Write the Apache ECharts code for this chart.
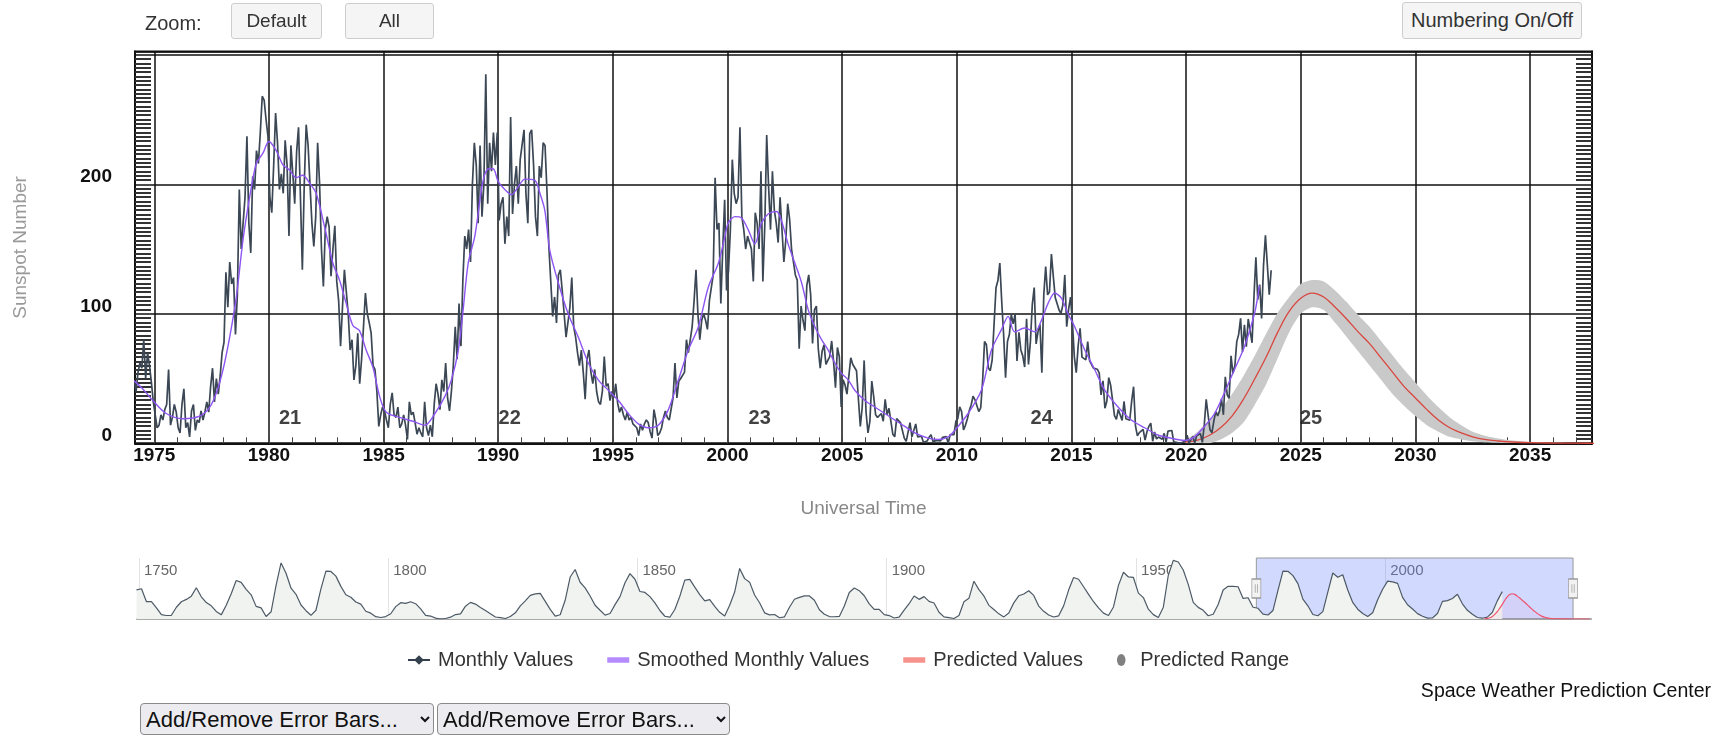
<!DOCTYPE html>
<html>
<head>
<meta charset="utf-8">
<title>Solar Cycle Progression</title>
<script src="https://cdn.jsdelivr.net/npm/echarts@6/dist/echarts.min.js"></script>
<style>
  html, body { margin: 0; padding: 0; background: #fff; }
  body { position: relative; width: 1716px; height: 735px; overflow: hidden; font-family: 'Liberation Sans', Arial, sans-serif; }
  #chart { position: absolute; left: 0; top: 0; width: 1716px; height: 735px; }
  .zoom-label { position: absolute; left: 145px; top: 12px; font-size: 20px; color: #333; }
  .btn {
    position: absolute; top: 3px; height: 36px; box-sizing: border-box; padding: 0;
    background: #f5f5f5; border: 1px solid #cdcdcd; border-radius: 3px;
    font: 19px 'Liberation Sans', Arial, sans-serif; color: #333;
  }
  .sel {
    position: absolute; top: 703px; height: 32px; box-sizing: border-box;
    background: #ececf0; border: 1px solid #8a8a8a; border-radius: 4px;
    font: 22px 'Liberation Sans', Arial, sans-serif; color: #111; padding-left: 1px;
  }
</style>
</head>
<body>
<div id="chart"></div>
<span class="zoom-label">Zoom:</span>
<button class="btn" style="left:231px;width:91px">Default</button>
<button class="btn" style="left:345px;width:89px">All</button>
<button class="btn" style="left:1402px;width:180px;top:2px;height:37px;font-size:20px">Numbering On/Off</button>
<select class="sel" style="left:140px;width:294px"><option>Add/Remove Error Bars...</option></select>
<select class="sel" style="left:437px;width:293px"><option>Add/Remove Error Bars...</option></select>

<script>
// monthly mean sunspot number, Jan 1974 .. Sep 2023
const monthlyStart = 1974
const monthlyValues = [
  45, 48, 40, 55, 62, 58, 80, 50, 70, 60, 47, 32,
  22, 12, 14, 22, 18, 26, 30, 57, 14, 20, 30, 24,
  12, 8, 30, 42, 12, 16, 5, 25, 30, 10, 18, 16,
  25, 18, 24, 32, 24, 44, 58, 32, 50, 38, 52, 70,
  78, 132, 105, 140, 123, 128, 84, 115, 196, 150, 170, 190,
  237, 170, 147, 206, 196, 226, 216, 240, 268, 265, 250, 237,
  190, 178, 215, 255, 232, 196, 208, 193, 234, 215, 160, 230,
  208, 185, 225, 244, 190, 134, 200, 246, 230, 200, 170, 152,
  175, 232, 201, 150, 121, 165, 175, 167, 129, 150, 168, 125,
  110, 75, 105, 134, 134, 100, 72, 80, 49, 60, 85, 46,
  65, 90, 116, 100, 93, 85, 60, 57, 40, 13, 22, 28,
  25, 18, 12, 30, 39, 22, 20, 28, 12, 15, 22, 14,
  3, 32, 22, 24, 16, 7, 12, 8, 5, 32, 12, 6,
  14, 5, 30, 46, 38, 26, 49, 40, 62, 35, 25, 40,
  60, 90, 65, 108, 75, 126, 160, 150, 165, 140, 200, 232,
  215, 170, 230, 175, 200, 285, 185, 232, 210, 240, 215, 240,
  172, 185, 190, 154, 175, 160, 252, 177, 200, 214, 185, 219,
  220, 242, 193, 170, 239, 242, 215, 175, 160, 214, 205, 232,
  230, 195, 152, 125, 98, 113, 93, 130, 134, 118, 100, 82,
  82, 105, 128, 90, 82, 70, 60, 72, 55, 34, 65, 72,
  55, 46, 57, 40, 32, 30, 40, 67, 44, 46, 33, 40,
  35, 46, 31, 24, 28, 22, 18, 24, 18, 20, 15, 14,
  12, 6, 15, 10, 15, 18, 16, 9, 4, 26, 18, 6,
  8, 12, 20, 25, 20, 18, 18, 35, 62, 35, 48, 50,
  50, 55, 80, 70, 70, 90, 110, 134, 100, 80, 95, 100,
  95, 88, 110, 120, 130, 205, 165, 170, 108, 150, 188, 118,
  133, 165, 219, 193, 185, 190, 244, 175, 165, 150, 160, 155,
  150, 125, 178, 170, 150, 210, 125, 168, 238, 198, 165, 210,
  180, 170, 155, 190, 190, 140, 157, 185, 173, 150, 150, 130,
  126, 73, 106, 95, 87, 122, 130, 115, 77, 103, 106, 73,
  58, 71, 76, 61, 64, 67, 79, 63, 43, 74, 67, 28,
  49, 45, 38, 38, 66, 61, 62, 56, 34, 13, 28, 64,
  24, 8, 17, 48, 36, 22, 20, 21, 23, 17, 34, 22,
  27, 17, 7, 5, 19, 19, 16, 10, 4, 1.5, 3, 16,
  5, 3.5, 15, 5, 5, 5.5, 0.8, 0.8, 1.8, 4.6, 6.6, 1.3,
  2.4, 2.2, 1.1, 1.9, 4.6, 4.6, 5.1, 0, 6.7, 7.4, 6.7, 17,
  19.1, 28.2, 24.5, 10.4, 13.9, 18.8, 25.2, 29.6, 36.4, 33.6, 34.4, 24.5,
  27.3, 48.3, 78.6, 76.1, 58.2, 56.1, 64.5, 65.8, 120.1, 125.7, 139.1, 109.3,
  83.6, 50.6, 78.6, 84.0, 99.5, 92.2, 99.7, 63.6, 85.6, 72.1, 67.5, 58.9,
  96.1, 60.9, 78.3, 107.3, 120.2, 76.7, 86.2, 91.8, 54.5, 114.4, 136.5, 114.6,
  117.0, 146.1, 128.7, 112.5, 112.5, 102.9, 100.2, 106.9, 130.0, 90.0, 103.6, 112.9,
  93.0, 66.7, 54.5, 75.3, 88.8, 66.5, 65.8, 64.4, 78.6, 63.6, 62.2, 58.0,
  56.6, 57.2, 54.4, 37.4, 48.2, 27.1, 32.5, 50.7, 44.8, 33.4, 21.4, 18.5,
  26.1, 26.4, 17.7, 32.3, 18.9, 19.2, 17.8, 32.6, 43.7, 13.2, 5.7, 8.2,
  6.8, 10.7, 2.5, 8.9, 13.1, 15.6, 1.6, 8.7, 3.3, 4.9, 4.9, 3.1,
  7.7, 0.8, 9.4, 9.1, 9.9, 1.2, 0.9, 0.5, 1.1, 0.4, 0.5, 1.5,
  6.2, 0.2, 1.5, 5.2, 0.2, 5.8, 6.1, 7.5, 0.6, 14.4, 34.0, 21.8,
  10.4, 8.2, 17.2, 24.5, 21.2, 25.0, 34.3, 22.0, 51.3, 37.4, 34.8, 67.5,
  54.0, 59.7, 78.5, 84.1, 96.5, 70.5, 91.4, 74.6, 96.0, 95.5, 77.6, 113.1,
  143.6, 110.9, 122.6, 96.4, 137.4, 160.5, 159.1, 114.8, 133.6
]

// 13-month smoothed values
const smoothYears = [
  1974.07, 1974.5, 1974.94, 1975.52, 1976.25, 1976.98, 1977.42, 1977.71, 1978.0, 1978.29,
  1978.58, 1978.87, 1979.16, 1979.45, 1979.74, 1980.0, 1980.32, 1980.61, 1980.9, 1981.19,
  1981.48, 1981.77, 1982.06, 1982.43, 1982.79, 1983.08, 1983.37, 1983.66, 1983.95, 1984.24,
  1984.53, 1984.83, 1985.12, 1985.7, 1986.28, 1986.8, 1987.24, 1987.67, 1987.96, 1988.26,
  1988.47, 1988.69, 1988.98, 1989.27, 1989.42, 1989.6, 1989.78, 1990.0, 1990.29, 1990.58,
  1990.87, 1991.16, 1991.6, 1991.82, 1992.03, 1992.25, 1992.62, 1993.05, 1993.49, 1993.93,
  1994.36, 1994.8, 1995.24, 1995.67, 1996.11, 1996.55, 1996.98, 1997.42, 1997.86, 1998.29,
  1998.73, 1999.17, 1999.6, 1999.89, 2000.03, 2000.32, 2000.61, 2000.9, 2001.19, 2001.48,
  2001.77, 2002.14, 2002.35, 2002.64, 2002.94, 2003.23, 2003.52, 2003.81, 2004.1, 2004.39,
  2004.68, 2004.97, 2005.26, 2005.55, 2005.99, 2006.42, 2006.86, 2007.29, 2007.73, 2008.17,
  2008.75, 2009.19, 2009.62, 2009.91, 2010.49, 2011.07, 2011.51, 2011.95, 2012.24, 2012.52,
  2012.96, 2013.4, 2013.69, 2013.98, 2014.27, 2014.56, 2014.85, 2015.14, 2015.58, 2016.01,
  2016.45, 2017.03, 2017.61, 2018.19, 2018.77, 2019.35, 2019.93, 2020.36, 2020.8, 2021.24,
  2021.67, 2022.11, 2022.55, 2022.98, 2023.2
]
const smoothValues = [
  49, 42, 33, 23, 19, 21, 28, 39, 57, 82,
  113, 157, 190, 216, 224, 233, 226, 215, 211, 205,
  207, 201, 193, 167, 139, 126, 108, 91, 87, 72,
  59, 36, 24, 20, 17, 14, 23, 36, 49, 72,
  103, 139, 160, 196, 208, 212, 212, 202, 196, 192,
  198, 204, 203, 193, 180, 149, 124, 100, 82, 62,
  49, 41, 33, 23, 15, 12, 14, 26, 49, 72,
  90, 121, 139, 160, 170, 175, 174, 165, 154, 170,
  177, 179, 172, 154, 139, 124, 103, 90, 80, 72,
  62, 54, 49, 41, 33, 28, 23, 18, 13, 8,
  4, 3, 5, 10, 23, 41, 72, 88, 98, 86,
  89, 86, 95, 108, 116, 112, 100, 90, 72, 57,
  41, 28, 18, 12, 6.4, 3.9, 2.2, 5, 13, 23,
  39, 57, 75, 100, 122
]

// cycle 25 prediction with its range
const predYears = [
  2019.95, 2020.5, 2021.0, 2021.5, 2022.0, 2022.5, 2023.0, 2023.5, 2024.0, 2024.5,
  2025.0, 2025.5, 2026.0, 2026.5, 2027.0, 2027.5, 2028.0, 2028.5, 2029.0, 2029.5,
  2030.0, 2030.5, 2031.0, 2031.5, 2032.0, 2032.5, 2033.0, 2033.5, 2034.0, 2035.0,
  2036.0, 2037.0, 2038.0, 2039.0, 2040.0, 2041.0
]
const predMid = [
  1, 2.5, 6, 12, 21, 34, 50, 67, 86, 102,
  112, 116, 113, 105, 96, 86, 77, 66, 55, 44,
  35, 26, 18, 12, 8, 5, 3, 2, 1.2, 0.5,
  0.2, 0.1, 0, 0, 0, 0
]
const predLow = [
  0, 0, 0, 3, 8, 16, 30, 46, 66, 86,
  100, 105, 103, 93, 82, 71, 60, 49, 38, 29,
  21, 14, 9, 5, 3, 1.5, 0.8, 0.4, 0.2, 0,
  0, 0, 0, 0, 0, 0
]
const predHigh = [
  2, 9, 18, 26, 38, 52, 68, 85, 101, 113,
  123, 126, 125, 118, 109, 99, 90, 79, 68, 57,
  47, 37, 28, 20, 14, 9, 6, 4, 2.5, 1,
  0.4, 0.2, 0, 0, 0, 0
]

// yearly means for the navigator, 1749 .. 2023
const navStart = 1749
const navValues = [
  134.0, 139.0, 79.5, 79.7, 51.2, 20.3, 16.0, 17.0, 54.0, 79.3, 90.0,
  104.8, 143.2, 102.0, 75.2, 60.7, 34.8, 19.0, 63.0, 116.3, 176.8,
  168.0, 136.0, 110.8, 58.0, 51.0, 11.7, 33.0, 154.2, 257.3, 209.8,
  141.3, 113.5, 64.2, 38.0, 17.0, 40.2, 138.2, 220.0, 218.2, 196.8,
  149.8, 111.0, 100.0, 78.2, 68.3, 35.5, 26.7, 10.7, 6.8, 11.3,
  24.2, 56.7, 75.0, 71.8, 79.2, 70.3, 46.8, 16.8, 13.5, 4.2,
  0.0, 2.3, 8.3, 20.3, 23.2, 59.0, 76.3, 68.3, 52.9, 38.5,
  24.2, 9.2, 6.3, 2.2, 11.4, 28.2, 59.9, 83.0, 108.5, 115.2,
  117.4, 80.8, 44.3, 13.4, 19.5, 85.8, 192.7, 227.3, 168.7, 143.0,
  105.5, 63.3, 40.3, 18.1, 25.1, 65.8, 102.7, 166.3, 208.3, 182.5,
  126.3, 122.0, 102.7, 74.1, 39.0, 12.7, 8.2, 43.4, 104.4, 178.3,
  182.2, 146.6, 112.1, 83.5, 89.2, 57.8, 30.7, 13.9, 62.8, 123.6,
  232.0, 185.3, 169.2, 110.1, 74.5, 28.3, 18.9, 20.7, 5.7, 10.0,
  53.7, 90.5, 99.0, 106.1, 105.8, 86.3, 42.4, 21.8, 11.2, 10.4,
  11.8, 59.5, 121.7, 142.0, 130.0, 106.6, 69.4, 43.8, 44.4, 20.2,
  15.7, 4.6, 8.5, 40.8, 70.1, 105.5, 90.1, 102.8, 80.9, 73.2,
  30.9, 9.5, 6.0, 2.4, 16.1, 79.0, 95.0, 173.6, 134.6, 105.7,
  62.7, 43.5, 23.7, 9.7, 27.9, 74.0, 106.5, 114.7, 129.7, 108.2,
  59.4, 35.1, 18.6, 9.2, 14.6, 60.2, 132.8, 190.6, 182.6, 148.0,
  113.0, 79.2, 50.8, 27.1, 16.1, 55.3, 154.3, 214.7, 193.0, 190.7,
  118.9, 98.3, 45.0, 20.1, 6.6, 54.2, 200.7, 269.3, 261.7, 225.1,
  159.0, 76.4, 53.4, 39.9, 15.0, 22.0, 66.8, 132.9, 150.0, 149.4,
  148.0, 94.4, 97.6, 54.1, 49.2, 22.5, 18.4, 39.3, 131.0, 220.1,
  218.9, 198.9, 162.4, 91.0, 60.5, 20.6, 14.8, 33.9, 123.0, 211.1,
  191.8, 203.3, 133.0, 76.1, 44.9, 25.1, 11.6, 28.9, 88.3, 136.3,
  173.9, 170.4, 163.6, 99.3, 65.3, 45.8, 24.7, 12.6, 4.2, 4.8,
  24.9, 80.8, 84.5, 94.0, 113.3, 69.8, 39.8, 21.7, 7.0, 3.6,
  8.8, 29.6, 83.2, 125.5
]

// axis ticks and cycle numbers
const majorYears = [1975, 1980, 1985, 1990, 1995, 2000, 2005, 2010, 2015, 2020, 2025, 2030, 2035]
const navTickYears = [1750, 1800, 1850, 1900, 1950, 2000]
const cycleNames = ['21', '22', '23', '24', '25']
const cycleYears = [1980.92, 1990.5, 2001.4, 2013.7, 2025.45]
const cycleLabelValue = 19

// default zoom window of the main chart and full navigator span
const viewMin = 1974.16
const viewMax = 2037.7
const navMin = 1749.6
const navMax = 2041.3

const minorYears = []
for (let y = 1975; y <= 2037; y++) minorYears.push(y)

const font = "'Liberation Sans', Arial, sans-serif"
const yearLabel = v => String(Math.round(v))
const monthlyData = monthlyValues.map((v, i) => [monthlyStart + (i + 0.5) / 12, v])
const smoothData = smoothYears.map((y, i) => [y, smoothValues[i]])
const predData = predYears.map((y, i) => [y, predMid[i]])
const rangeData = predYears.map((y, i) => [y, predLow[i], predHigh[i]])
const navData = navValues.map((v, i) => [navStart + i + 0.5, v])

const handlePath = 'path://M0,0 L8,0 L8,18 L0,18 Z M3,5 L3,13 M5,5 L5,13'
const barIcon = 'path://M0,0 L16,0 L16,4 L0,4 Z'

// the predicted range is one closed band: upper edge forward, lower edge back
function renderRange(params, api) {
  if (params.dataIndex !== 0) return null
  const upper = rangeData.map(d => api.coord([d[0], d[2]]))
  const lower = rangeData.map(d => api.coord([d[0], d[1]])).reverse()
  return {
    type: 'polygon',
    shape: { points: upper.concat(lower), smooth: 0.25 },
    style: { fill: '#c9c9c9' }
  }
}

const chart = echarts.init(document.getElementById('chart'))

const option = {
  animation: false,
  textStyle: { fontFamily: font },
  title: {
    text: 'Space Weather Prediction Center',
    right: 0,
    top: 677,
    textStyle: { fontSize: 19.5, fontWeight: 'normal', color: '#111', fontFamily: font }
  },
  legend: {
    left: 402,
    top: 645,
    itemGap: 34,
    itemWidth: 22,
    itemHeight: 12,
    selectedMode: false,
    textStyle: { fontSize: 20, color: '#333', fontFamily: font, padding: [0, 0, 0, 3] },
    data: [
      { name: 'Monthly Values', itemStyle: { color: '#34404d' }, lineStyle: { color: '#34404d', width: 2 } },
      { name: 'Smoothed Monthly Values', icon: barIcon, itemStyle: { color: '#b48cff' } },
      { name: 'Predicted Values', icon: barIcon, itemStyle: { color: '#f7938c' } },
      { name: 'Predicted Range', icon: 'path://M5,0 A5,7 0 1,1 5,14 A5,7 0 1,1 5,0 Z', itemStyle: { color: '#808080' } }
    ]
  },
  grid: [
    { left: 135, top: 51.5, width: 1457, height: 391.8, show: true, borderColor: '#111', borderWidth: 2, backgroundColor: '#fff', outerBoundsMode: 'none' },
    { left: 137, top: 558, width: 1454, height: 61, outerBoundsMode: 'none' }
  ],
  xAxis: [
    {
      gridIndex: 0,
      type: 'value',
      min: viewMin,
      max: viewMax,
      position: 'bottom',
      name: 'Universal Time',
      nameLocation: 'middle',
      nameGap: 56,
      nameTextStyle: { color: '#888', fontSize: 19, fontFamily: font },
      axisLine: { lineStyle: { color: '#111', width: 2 } },
      axisTick: { show: false, customValues: majorYears },
      axisLabel: {
        customValues: majorYears, formatter: yearLabel,
        fontWeight: 'bold', fontSize: 19, color: '#111', margin: 3, fontFamily: font
      },
      splitLine: { show: true, lineStyle: { color: '#111', width: 1.5 } }
    },
    {
      // yearly minor ticks along the bottom edge
      gridIndex: 0,
      type: 'value',
      min: viewMin,
      max: viewMax,
      position: 'bottom',
      axisLine: { show: false },
      axisLabel: { show: false },
      splitLine: { show: false },
      axisTick: { show: true, inside: true, length: 6, customValues: minorYears, lineStyle: { color: '#444', width: 1 } }
    },
    {
      gridIndex: 1,
      type: 'value',
      min: navMin,
      max: navMax,
      position: 'top',
      axisLine: { show: true, lineStyle: { color: '#aaa', width: 2 } },
      axisTick: { show: false, customValues: navTickYears },
      axisLabel: {
        customValues: navTickYears, formatter: yearLabel, inside: true, align: 'left', verticalAlign: 'top',
        margin: 5, padding: [0, 0, 0, 5], color: '#666', fontSize: 15, fontFamily: font
      },
      splitLine: { show: true, lineStyle: { color: '#e3e3e3', width: 1 } }
    }
  ],
  yAxis: [
    {
      gridIndex: 0,
      type: 'value',
      min: 0,
      max: 302.5,
      interval: 100,
      position: 'left',
      name: 'Sunspot Number',
      nameLocation: 'middle',
      nameGap: 105,
      nameTextStyle: { color: '#999', fontSize: 19, fontFamily: font },
      axisLine: { show: true, lineStyle: { color: '#111', width: 2 } },
      axisTick: { show: false, inside: true },
      minorTick: { show: true, splitNumber: 30, length: 16, lineStyle: { color: '#333', width: 2 } },
      splitLine: { show: true, lineStyle: { color: '#111', width: 1.5 } },
      axisLabel: {
        formatter: v => (v > 250 ? '' : String(v)),
        fontWeight: 'bold', fontSize: 19, color: '#111', margin: 23,
        verticalAlign: 'bottom', lineHeight: 15, showMaxLabel: false, fontFamily: font
      }
    },
    {
      gridIndex: 0,
      type: 'value',
      min: 0,
      max: 302.5,
      interval: 100,
      position: 'right',
      axisLine: { show: true, lineStyle: { color: '#111', width: 2 } },
      axisTick: { show: false, inside: true },
      minorTick: { show: true, splitNumber: 30, length: 16, lineStyle: { color: '#333', width: 2 } },
      splitLine: { show: false },
      axisLabel: { show: false }
    },
    { gridIndex: 1, type: 'value', min: 0, max: 280, show: false }
  ],
  series: [
    {
      name: 'Predicted Range',
      type: 'custom',
      xAxisIndex: 0,
      yAxisIndex: 0,
      clip: true,
      silent: true,
      color: '#808080',
      data: rangeData,
      encode: { x: 0, y: [1, 2] },
      renderItem: renderRange
    },
    {
      name: 'Predicted Values',
      type: 'line',
      xAxisIndex: 0,
      yAxisIndex: 0,
      data: predData,
      smooth: 0.4,
      symbol: 'none',
      color: '#d9463e',
      lineStyle: { color: '#d9463e', width: 1.3 }
    },
    {
      name: 'Monthly Values',
      type: 'line',
      xAxisIndex: 0,
      yAxisIndex: 0,
      data: monthlyData,
      symbol: 'diamond',
      symbolSize: 9,
      showSymbol: false,
      color: '#34404d',
      lineStyle: { color: '#3b4754', width: 1.7 }
    },
    {
      name: 'Smoothed Monthly Values',
      type: 'line',
      xAxisIndex: 0,
      yAxisIndex: 0,
      data: smoothData,
      smooth: 0.3,
      symbol: 'none',
      color: '#8e55f2',
      lineStyle: { color: '#8e55f2', width: 1.4 }
    },
    {
      name: 'Cycle',
      type: 'scatter',
      xAxisIndex: 0,
      yAxisIndex: 0,
      symbolSize: 0,
      silent: true,
      data: cycleNames.map((n, i) => ({ name: n, value: [cycleYears[i], cycleLabelValue] })),
      label: { show: true, position: 'inside', formatter: '{b}', fontWeight: 'bold', fontSize: 20, color: '#111', fontFamily: font }
    },
    {
      name: 'Navigator',
      type: 'line',
      xAxisIndex: 2,
      yAxisIndex: 2,
      data: navData,
      symbol: 'none',
      silent: true,
      color: '#4d5a66',
      lineStyle: { color: '#4d5a66', width: 1.2 },
      areaStyle: { color: '#f1f3f1', opacity: 1 },
      markArea: {
        silent: true,
        itemStyle: { color: 'rgba(102,128,255,0.3)', borderColor: '#9a9a9a', borderWidth: 1 },
        data: [[{ xAxis: viewMin }, { xAxis: viewMax }]]
      },
      markPoint: {
        silent: true,
        symbol: handlePath,
        symbolSize: [9, 19],
        symbolKeepAspect: false,
        itemStyle: { color: '#f2f2f2', borderColor: '#999', borderWidth: 1 },
        label: { show: false },
        data: [{ coord: [viewMin, 140] }, { coord: [viewMax, 140] }]
      }
    },
    {
      name: 'Navigator prediction',
      type: 'line',
      xAxisIndex: 2,
      yAxisIndex: 2,
      data: predData,
      smooth: 0.4,
      symbol: 'none',
      silent: true,
      color: '#f0506e',
      lineStyle: { color: '#f0506e', width: 1.2 },
      areaStyle: { color: 'rgba(240,80,110,0.08)' }
    }
  ]
}

chart.setOption(option)
window.addEventListener('resize', () => chart.resize())
</script>
</body>
</html>
